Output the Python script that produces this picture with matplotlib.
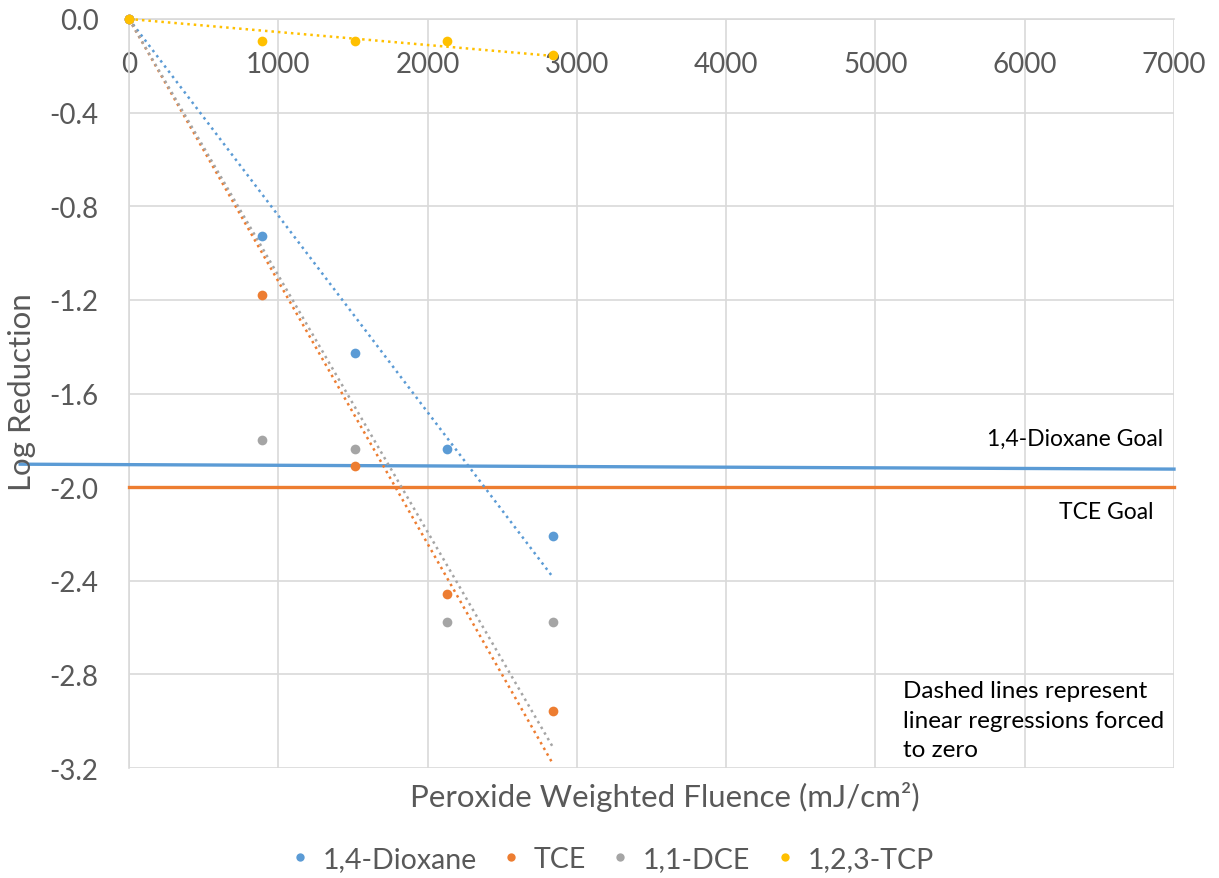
import numpy as np
import matplotlib
matplotlib.use("Agg")
import matplotlib.pyplot as plt
from matplotlib.lines import Line2D

plt.rcParams['font.family'] = ['Lato', 'DejaVu Sans']

# Peroxide weighted fluence (mJ/cm²) of each sample
fluence = [0, 890, 1512, 2127, 2840]

# Log reduction per compound
dioxane = [0.0, -0.927, -1.425, -1.835, -2.21]
tce = [0.0, -1.179, -1.91, -2.457, -2.957]
dce = [0.0, -1.799, -1.835, -2.575, -2.575]
tcp = [0.0, -0.095, -0.095, -0.095, -0.155]

series_names = ['1,4-Dioxane', 'TCE', '1,1-DCE', '1,2,3-TCP']
series_colors = ['#5B9BD5', '#ED7D31', '#A5A5A5', '#FFC000']

# Treatment goals (start / end of each goal line)
dioxane_goal_x = [-729, 7000]
dioxane_goal_y = [-1.902, -1.923]
tce_goal_x = [0, 7000]
tce_goal_y = [-2.0, -2.0]

x_ticks = [0, 1000, 2000, 3000, 4000, 5000, 6000, 7000]
y_ticks = [0.0, -0.4, -0.8, -1.2, -1.6, -2.0, -2.4, -2.8, -3.2]

text_gray = '#595959'
grid_gray = '#D9D9D9'

fig = plt.figure(figsize=(12.19, 8.79), dpi=100)
ax = fig.add_axes([129 / 1219, 1 - 769 / 879, (1174 - 129) / 1219, (769 - 20) / 879])

ax.set_xlim(0, 7000)
ax.set_ylim(-3.2, 0.0)

# grid
for xv in x_ticks:
    ax.axvline(xv, color=grid_gray, lw=1.2, zorder=0)
for yv in y_ticks:
    ax.axhline(yv, color=grid_gray, lw=1.2, zorder=0)

for s in ['top', 'right']:
    ax.spines[s].set_visible(False)
ax.spines['left'].set_color(grid_gray)
ax.spines['left'].set_linewidth(1.2)
ax.spines['bottom'].set_position(('data', 0))
ax.spines['bottom'].set_color(grid_gray)
ax.spines['bottom'].set_linewidth(1.2)

ax.set_xticks(x_ticks)
ax.set_xticklabels([str(v) for v in x_ticks])
ax.set_yticks(y_ticks)
ax.set_yticklabels([f"{v:.1f}" for v in y_ticks])
ax.tick_params(axis='x', length=0, pad=23, labelsize=20, labelcolor=text_gray)
ax.tick_params(axis='y', length=0, pad=22, labelsize=20, labelcolor=text_gray)

# goal lines
ax.plot(dioxane_goal_x, dioxane_goal_y, color='#5B9BD5', lw=2.4, clip_on=False, zorder=3)
ax.plot(tce_goal_x, tce_goal_y, color='#ED7D31', lw=2.4, clip_on=False, zorder=3)

# data points and regressions through the origin
x = np.array(fluence, dtype=float)
for ys, color in zip([dioxane, tce, dce, tcp], series_colors):
    y = np.array(ys, dtype=float)
    slope = np.sum(x * y) / np.sum(x * x)
    xf = np.array([0.0, x.max()])
    ax.plot(xf, slope * xf, color=color, lw=1.8, linestyle=(0, (1, 1.6)),
            zorder=4, clip_on=False)
    ax.plot(x, y, 'o', color=color, ms=7, mec='none', zorder=5, clip_on=False)

# annotations
ax.text(6925, -1.79, '1,4-Dioxane Goal', ha='right', va='center', fontsize=16.5, color='black')
ax.text(6865, -2.105, 'TCE Goal', ha='right', va='center', fontsize=16.5, color='black')
ax.text(5185, -2.995, 'Dashed lines represent\nlinear regressions forced\nto zero',
        ha='left', va='center', fontsize=17.5, color='black', linespacing=1.5)

# axis titles
fig.text(665 / 1219, 1 - 797 / 879, 'Peroxide Weighted Fluence (mJ/cm²)',
         ha='center', va='center', fontsize=22.5, color=text_gray)
fig.text(22 / 1219, 1 - 392 / 879, 'Log Reduction', rotation=90,
         ha='center', va='center', fontsize=22.5, color=text_gray)

# legend
handles = [Line2D([], [], marker='o', ls='none', color=c, ms=6, mec='none')
           for c in series_colors]
fig.legend(handles, series_names, loc='center', bbox_to_anchor=(611 / 1219, 1 - 860 / 879),
           ncol=4, frameon=False, fontsize=20.5, labelcolor=text_gray,
           handletextpad=0.4, columnspacing=0.8, handlelength=0.8)

fig.savefig('out.png', dpi=100)
